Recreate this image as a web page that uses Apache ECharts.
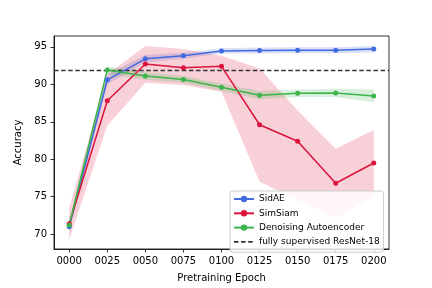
<!DOCTYPE html>
<html>
<head>
<meta charset="utf-8">
<script src="https://cdn.jsdelivr.net/npm/echarts@6/dist/echarts.min.js"></script>
<style>html,body{margin:0;padding:0;background:#fff}#c{width:432px;height:288px}</style>
</head>
<body>
<div id="c"></div>
<script>
const epochs = [0, 25, 50, 75, 100, 125, 150, 175, 200];
const tickLabels = ['0000','0025','0050','0075','0100','0125','0150','0175','0200'];
const yTicks = [70, 75, 80, 85, 90, 95];

const sidae     = [71.0, 90.6, 93.4, 93.8, 94.45, 94.5, 94.55, 94.55, 94.7];
const sidaeLow  = [70.4, 90.0, 92.9, 93.4, 94.1, 94.1, 94.15, 94.15, 94.25];
const sidaeHigh = [71.6, 91.3, 93.9, 94.2, 94.8, 94.9, 94.95, 94.95, 95.1];

const simsiam     = [71.4, 87.8, 92.7, 92.2, 92.4, 84.6, 82.4, 76.8, 79.5];
const simsiamLow  = [69.3, 84.5, 90.2, 89.9, 89.0, 77.0, 74.6, 72.2, 75.0];
const simsiamHigh = [73.5, 91.3, 95.1, 94.7, 93.8, 92.1, 86.5, 81.4, 83.9];

const dae     = [71.2, 91.9, 91.1, 90.65, 89.6, 88.55, 88.8, 88.85, 88.45];
const daeLow  = [70.6, 91.4, 90.6, 90.2, 89.1, 88.0, 88.3, 88.3, 87.6];
const daeHigh = [71.8, 92.4, 91.6, 91.1, 90.1, 89.1, 89.3, 89.4, 89.3];

const baseline = 91.85;
const baselineX = [-10, 210];

const names = ['SidAE', 'SimSiam', 'Denoising Autoencoder', 'fully supervised ResNet-18'];
const colors = ['#4169E1', '#DC143C', '#3cb44b', '#333333'];

function pts(ys) { return epochs.map((x, i) => [x, ys[i]]); }

function band(key, lo, hi, color) {
  return {
    type: 'custom', name: key + '_band', silent: true, z: 1,
    data: [[0, lo[0]]],
    renderItem: function (params, api) {
      const top = epochs.map((x, i) => api.coord([x, hi[i]]));
      const bot = epochs.map((x, i) => api.coord([x, lo[i]])).reverse();
      return { type: 'polygon', shape: { points: top.concat(bot) },
        style: { fill: color, opacity: 0.2 } };
    }
  };
}

function main(name, ys, color) {
  return { type: 'line', name: name, data: pts(ys), symbol: 'circle', symbolSize: 5,
    color: color, lineStyle: { width: 1.5, color: color }, itemStyle: { color: color }, z: 3 };
}

const series = [
  band('sid', sidaeLow, sidaeHigh, colors[0]),
  band('sim', simsiamLow, simsiamHigh, colors[1]),
  band('dae', daeLow, daeHigh, colors[2]),
  main(names[0], sidae, colors[0]),
  main(names[1], simsiam, colors[1]),
  main(names[2], dae, colors[2]),
  { type: 'line', name: names[3], data: baselineX.map(x => [x, baseline]), symbol: 'none',
    color: colors[3], lineStyle: { type: [4.5, 2.6], width: 1.5, color: colors[3] }, z: 2 }
];

const dashIcon = 'path://M0,0h4.5v1.6h-4.5z M7.1,0h4.5v1.6h-4.5z M14.2,0h4.5v1.6h-4.5z M20,0h0.01v1.6h-0.01z';

const font = 'DejaVu Sans';
const chart = echarts.init(document.getElementById('c'), null, { renderer: 'canvas' });
chart.setOption({
  animation: false,
  backgroundColor: '#fff',
  textStyle: { fontFamily: font },
  grid: { left: 54, right: 43, top: 36, bottom: 36, show: true, backgroundColor: 'transparent',
    borderColor: '#000', borderWidth: 0.8, containLabel: false },
  legend: {
    data: [names[0], names[1], names[2], { name: names[3], icon: dashIcon }],
    orient: 'vertical', left: 230, top: 191,
    itemWidth: 20, itemHeight: 8, itemGap: 5.3,
    padding: [3.5, 4, 5.8, 3],
    backgroundColor: 'rgba(255,255,255,0.8)', borderColor: '#cccccc', borderWidth: 1, borderRadius: 3,
    textStyle: { fontFamily: font, fontSize: 9, color: '#000' }
  },
  xAxis: {
    type: 'value', min: -10, max: 210,
    name: 'Pretraining Epoch', nameLocation: 'middle', nameGap: 24,
    nameTextStyle: { fontFamily: font, fontSize: 10, color: '#000' },
    axisLine: { show: true, onZero: false, lineStyle: { color: '#000', width: 0.8 } },
    axisTick: { show: true, length: 3.5, customValues: epochs, lineStyle: { color: '#000', width: 0.8 } },
    axisLabel: { customValues: epochs, fontFamily: font, fontSize: 10, color: '#000', margin: 7,
      formatter: v => tickLabels[epochs.indexOf(v)] },
    splitLine: { show: false }
  },
  yAxis: {
    type: 'value', min: 68.03, max: 96.44,
    name: 'Accuracy', nameLocation: 'middle', nameGap: 30,
    nameTextStyle: { fontFamily: font, fontSize: 10, color: '#000' },
    axisLine: { show: true, onZero: false, lineStyle: { color: '#000', width: 0.8 } },
    axisTick: { show: true, length: 3.5, customValues: yTicks, lineStyle: { color: '#000', width: 0.8 } },
    axisLabel: { customValues: yTicks, fontFamily: font, fontSize: 10, color: '#000', margin: 7 },
    splitLine: { show: false }
  },
  series: series
});
</script>
</body>
</html>
